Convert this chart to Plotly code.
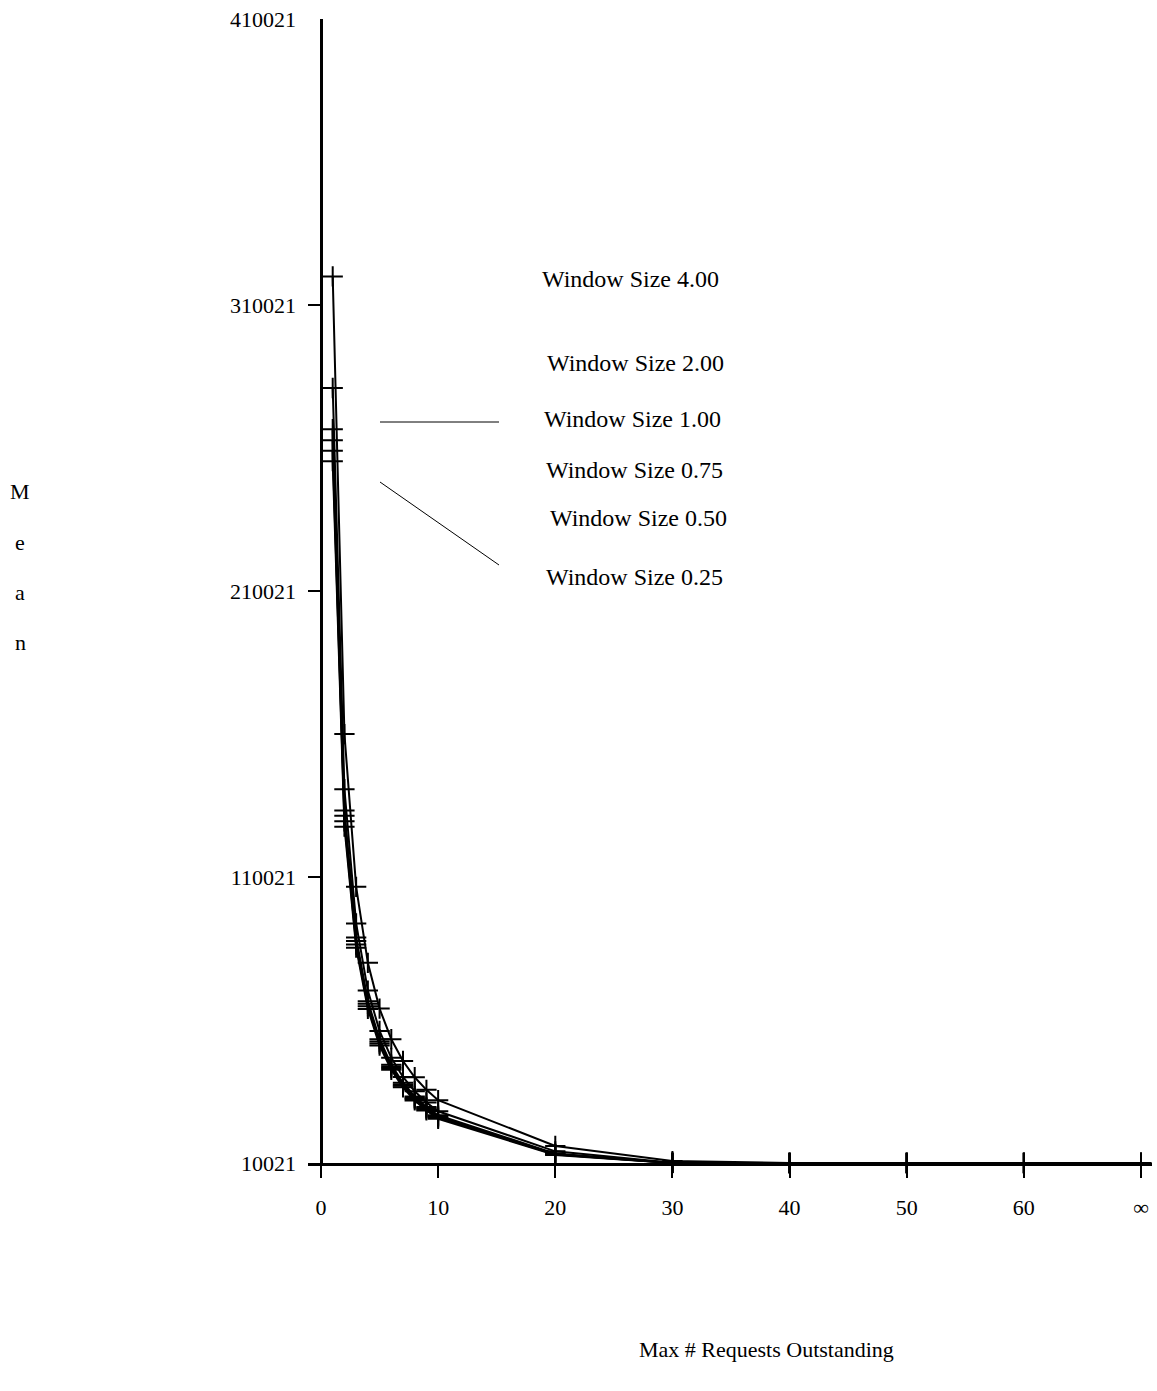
import plotly.graph_objects as go

# ---------------- data ----------------
max_outstanding = [1, 2, 3, 4, 5, 6, 7, 8, 9, 10, 20, 30, 40, 50, 60, 70]  # 70 == "∞"
x_tick_vals = [0, 10, 20, 30, 40, 50, 60, 70]
x_tick_text = ["0", "10", "20", "30", "40", "50", "60", "∞"]
y_tick_vals = [10021, 110021, 210021, 310021, 410021]

series_names = ["Window Size 4.00", "Window Size 2.00", "Window Size 1.00",
                "Window Size 0.75", "Window Size 0.50", "Window Size 0.25"]
mean_w400 = [320000, 160000, 106600, 80000, 64000, 53300, 45700, 40000, 35600, 32000, 16000, 10700, 10021, 10021, 10021, 10021]
mean_w200 = [281000, 140700, 93800, 70300, 56200, 46800, 40100, 35100, 31200, 28100, 14100, 10100, 10021, 10021, 10021, 10021]
mean_w100 = [266600, 133300, 88900, 66600, 53300, 44400, 38100, 33300, 29600, 26700, 13300, 10050, 10021, 10021, 10021, 10021]
mean_w075 = [262700, 131400, 87600, 65700, 52500, 43800, 37500, 32800, 29200, 26300, 13100, 10040, 10021, 10021, 10021, 10021]
mean_w050 = [259100, 129500, 86400, 64800, 51800, 43200, 37000, 32400, 28800, 25900, 13000, 10030, 10021, 10021, 10021, 10021]
mean_w025 = [255400, 127600, 85300, 63900, 51100, 42600, 36500, 31900, 28400, 25500, 12800, 10021, 10021, 10021, 10021, 10021]
all_means = [mean_w400, mean_w200, mean_w100, mean_w075, mean_w050, mean_w025]

# legend label positions (pixel centres in the page)
legend_pos = [(630, 279), (635, 363), (632, 419), (634, 470), (638, 518), (634, 577)]

# ---------------- layout geometry ----------------
W, H = 1157, 1391
L, R, T, B = 308, 1152, 19, 1163   # plot area in pixels
FONT = "Liberation Serif, Times New Roman, serif"


def px(xp):
    return (xp - L) / (R - L)


def py(yp):
    return (B - yp) / (B - T)


fig = go.Figure()
for name, vals in zip(series_names, all_means):
    fig.add_trace(go.Scatter(
        x=max_outstanding, y=vals, name=name, mode="lines+markers",
        line=dict(color="black", width=2),
        marker=dict(symbol="cross-thin", size=14.5, color="black",
                    line=dict(color="black", width=2)),
        showlegend=False, cliponaxis=False,
    ))

annotations = []
for name, (ax_, ay_) in zip(series_names, legend_pos):
    annotations.append(dict(text=name, x=px(ax_), y=py(ay_), xref="paper", yref="paper",
                            xanchor="center", yanchor="middle", showarrow=False,
                            font=dict(family=FONT, size=24, color="black")))
for letter, yy in zip("Mean", [492, 542, 592, 642]):
    annotations.append(dict(text=letter, x=px(20), y=py(yy), xref="paper", yref="paper",
                            xanchor="center", yanchor="middle", showarrow=False,
                            font=dict(family=FONT, size=22, color="black")))
annotations.append(dict(text="Max # Requests Outstanding", x=px(766), y=py(1349),
                        xref="paper", yref="paper", xanchor="center", yanchor="middle",
                        showarrow=False, font=dict(family=FONT, size=22, color="black")))

shapes = [
    dict(type="line", xref="paper", yref="paper", x0=px(380), y0=py(422), x1=px(499), y1=py(422),
         line=dict(color="black", width=1)),
    dict(type="line", xref="paper", yref="paper", x0=px(380), y0=py(482), x1=px(499), y1=py(565),
         line=dict(color="black", width=1)),
]

x_per_px = 10 / 117.143
fig.update_layout(
    width=W, height=H,
    margin=dict(l=L, r=W - R, t=T, b=H - B, autoexpand=False),
    paper_bgcolor="white", plot_bgcolor="white",
    font=dict(family=FONT, size=22, color="black"),
    annotations=annotations, shapes=shapes,
    xaxis=dict(
        range=[0 - (321 - L) * x_per_px, 70 + (R - 1141) * x_per_px],
        tickmode="array", tickvals=x_tick_vals, ticktext=x_tick_text,
        ticks="outside", ticklen=12, tickwidth=2, tickcolor="black",
        showline=True, linewidth=3, linecolor="black",
        zeroline=True, zerolinewidth=3, zerolinecolor="black",
        showgrid=False, ticklabelstandoff=11,
        tickfont=dict(family=FONT, size=22, color="black"),
    ),
    yaxis=dict(
        range=[10021, 410021],
        tickmode="array", tickvals=y_tick_vals,
        ticktext=[str(v) for v in y_tick_vals],
        ticks="inside", ticklen=13, tickwidth=2, tickcolor="black",
        showline=False, zeroline=False, showgrid=False,
        ticklabelstandoff=11,
        tickfont=dict(family=FONT, size=22, color="black"),
    ),
)

fig.write_html("out.html")
